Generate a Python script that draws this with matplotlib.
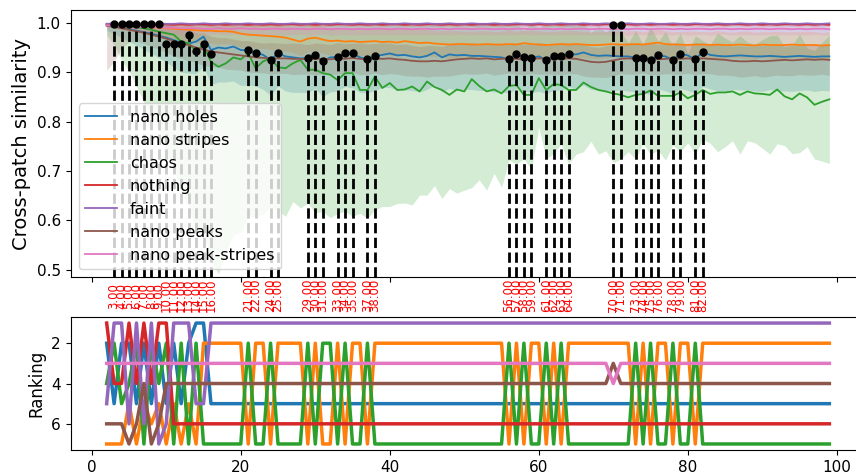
import numpy as np
import matplotlib.pyplot as plt

steps = np.arange(2, 100)

names = ["nano holes", "nano stripes", "chaos", "nothing", "faint", "nano peaks", "nano peak-stripes"]
colors = ["tab:blue", "tab:orange", "tab:green", "tab:red", "tab:purple", "tab:brown", "tab:pink"]

# mean cross-patch similarity per step (x = 2..99)
holes_mean = [0.995, 0.993, 0.990, 0.987, 0.984, 0.981, 0.978, 0.974, 0.970, 0.965,
              0.960, 0.958, 0.962, 0.972, 0.945, 0.950, 0.948, 0.952, 0.945, 0.944,
              0.940, 0.935, 0.925, 0.938, 0.932, 0.930, 0.928, 0.929, 0.935, 0.922,
              0.930, 0.931, 0.938, 0.938, 0.930, 0.926, 0.933, 0.935, 0.938, 0.934,
              0.935, 0.932, 0.930, 0.933, 0.940, 0.930, 0.936, 0.934, 0.935, 0.933,
              0.933, 0.932, 0.931, 0.930, 0.926, 0.937, 0.930, 0.929, 0.932, 0.925,
              0.933, 0.933, 0.937, 0.936, 0.940, 0.935, 0.933, 0.934, 0.933, 0.932,
              0.932, 0.929, 0.929, 0.925, 0.934, 0.932, 0.925, 0.937, 0.934, 0.926,
              0.941, 0.935, 0.933, 0.932, 0.933, 0.934, 0.933, 0.932, 0.932, 0.933,
              0.932, 0.931, 0.932, 0.933, 0.932, 0.931, 0.932, 0.932]
stripes_mean = [0.997, 0.996, 0.995, 0.994, 0.993, 0.992, 0.991, 0.990, 0.989, 0.988,
                0.987, 0.986, 0.985, 0.984, 0.984, 0.983, 0.983, 0.982, 0.978, 0.976,
                0.975, 0.974, 0.973, 0.972, 0.970, 0.966, 0.962, 0.968, 0.970, 0.966,
                0.963, 0.964, 0.962, 0.963, 0.961, 0.962, 0.963, 0.961, 0.962, 0.960,
                0.963, 0.961, 0.959, 0.960, 0.958, 0.957, 0.956, 0.957, 0.957, 0.956,
                0.956, 0.957, 0.956, 0.956, 0.957, 0.956, 0.959, 0.957, 0.956, 0.955,
                0.956, 0.957, 0.956, 0.957, 0.956, 0.955, 0.955, 0.956, 0.957, 0.956,
                0.956, 0.957, 0.956, 0.958, 0.960, 0.957, 0.956, 0.956, 0.955, 0.956,
                0.956, 0.955, 0.956, 0.955, 0.955, 0.956, 0.955, 0.954, 0.956, 0.955,
                0.955, 0.955, 0.956, 0.955, 0.955, 0.955, 0.954, 0.955]
chaos_mean = [0.996, 0.995, 0.994, 0.993, 0.991, 0.989, 0.986, 0.982, 0.979, 0.976,
              0.962, 0.959, 0.942, 0.955, 0.921, 0.911, 0.918, 0.930, 0.926, 0.938,
              0.908, 0.922, 0.928, 0.910, 0.908, 0.918, 0.925, 0.905, 0.905, 0.898,
              0.895, 0.884, 0.898, 0.898, 0.864, 0.864, 0.891, 0.868, 0.878, 0.864,
              0.865, 0.871, 0.861, 0.881, 0.870, 0.864, 0.854, 0.865, 0.861, 0.886,
              0.872, 0.861, 0.865, 0.857, 0.872, 0.874, 0.854, 0.854, 0.888, 0.864,
              0.876, 0.874, 0.864, 0.864, 0.879, 0.870, 0.864, 0.861, 0.857, 0.854,
              0.849, 0.854, 0.856, 0.863, 0.852, 0.852, 0.852, 0.859, 0.847, 0.854,
              0.864, 0.856, 0.859, 0.859, 0.861, 0.854, 0.861, 0.857, 0.856, 0.854,
              0.865, 0.851, 0.845, 0.857, 0.849, 0.834, 0.840, 0.845]
nothing_mean = [0.998, 0.997, 0.997, 0.996, 0.997, 0.997, 0.996, 0.997, 0.997, 0.996,
                0.997, 0.996, 0.997, 0.997, 0.996, 0.997, 0.996, 0.997, 0.997, 0.996,
                0.997, 0.996, 0.997, 0.996, 0.997, 0.997, 0.996, 0.997, 0.996, 0.997,
                0.996, 0.997, 0.997, 0.996, 0.997, 0.996, 0.997, 0.996, 0.997, 0.997,
                0.996, 0.997, 0.996, 0.997, 0.997, 0.996, 0.997, 0.996, 0.997, 0.996,
                0.997, 0.997, 0.996, 0.997, 0.996, 0.997, 0.997, 0.996, 0.997, 0.996,
                0.997, 0.996, 0.997, 0.997, 0.996, 0.997, 0.996, 0.997, 0.997, 0.996,
                0.997, 0.996, 0.997, 0.996, 0.997, 0.997, 0.996, 0.997, 0.996, 0.997,
                0.997, 0.996, 0.997, 0.996, 0.997, 0.997, 0.996, 0.997, 0.996, 0.997,
                0.996, 0.997, 0.997, 0.996, 0.997, 0.996, 0.997, 0.996]
faint_mean = [0.998, 0.999, 0.998, 0.998, 0.999, 0.998, 0.998, 0.999, 0.998, 0.998,
              0.999, 0.998, 0.998, 0.999, 0.998, 0.998, 0.999, 0.998, 0.998, 0.999,
              0.998, 0.998, 0.999, 0.998, 0.998, 0.999, 0.998, 0.998, 0.999, 0.998,
              0.998, 0.999, 0.998, 0.998, 0.999, 0.998, 0.998, 0.999, 0.998, 0.998,
              0.999, 0.998, 0.998, 0.999, 0.998, 0.998, 0.999, 0.998, 0.998, 0.999,
              0.998, 0.998, 0.999, 0.998, 0.998, 0.999, 0.998, 0.998, 0.999, 0.998,
              0.998, 0.999, 0.998, 0.998, 0.999, 0.998, 0.998, 0.999, 0.998, 0.998,
              0.999, 0.998, 0.998, 0.999, 0.998, 0.998, 0.999, 0.998, 0.998, 0.999,
              0.998, 0.998, 0.999, 0.998, 0.998, 0.999, 0.998, 0.998, 0.999, 0.998,
              0.998, 0.999, 0.998, 0.998, 0.999, 0.998, 0.998, 0.999]
peaks_mean = [0.994, 0.992, 0.989, 0.986, 0.983, 0.980, 0.976, 0.972, 0.968, 0.963,
              0.958, 0.955, 0.950, 0.946, 0.942, 0.940, 0.938, 0.936, 0.934, 0.932,
              0.930, 0.929, 0.928, 0.928, 0.928, 0.927, 0.927, 0.926, 0.927, 0.927,
              0.926, 0.928, 0.927, 0.929, 0.927, 0.926, 0.928, 0.927, 0.928, 0.926,
              0.925, 0.923, 0.922, 0.922, 0.923, 0.922, 0.924, 0.926, 0.927, 0.928,
              0.927, 0.928, 0.926, 0.927, 0.928, 0.927, 0.926, 0.927, 0.928, 0.927,
              0.926, 0.927, 0.928, 0.927, 0.924, 0.921, 0.920, 0.921, 0.924, 0.927,
              0.928, 0.927, 0.928, 0.927, 0.926, 0.927, 0.928, 0.927, 0.928, 0.927,
              0.928, 0.927, 0.926, 0.925, 0.923, 0.922, 0.922, 0.923, 0.922, 0.923,
              0.924, 0.925, 0.924, 0.925, 0.926, 0.925, 0.926, 0.925]
peakstripes_mean = [0.995, 0.994, 0.993, 0.993, 0.992, 0.992, 0.991, 0.991, 0.990, 0.990,
                    0.989, 0.989, 0.989, 0.988, 0.988, 0.989, 0.988, 0.988, 0.989, 0.988,
                    0.988, 0.987, 0.988, 0.988, 0.987, 0.988, 0.988, 0.987, 0.988, 0.988,
                    0.987, 0.988, 0.988, 0.987, 0.988, 0.987, 0.988, 0.988, 0.987, 0.988,
                    0.988, 0.987, 0.988, 0.988, 0.987, 0.988, 0.987, 0.988, 0.988, 0.987,
                    0.988, 0.988, 0.987, 0.988, 0.987, 0.988, 0.988, 0.987, 0.988, 0.988,
                    0.987, 0.988, 0.987, 0.988, 0.988, 0.987, 0.988, 0.988, 0.987, 0.988,
                    0.987, 0.988, 0.988, 0.987, 0.988, 0.988, 0.987, 0.988, 0.987, 0.988,
                    0.988, 0.987, 0.988, 0.988, 0.987, 0.988, 0.987, 0.988, 0.988, 0.987,
                    0.988, 0.988, 0.987, 0.988, 0.987, 0.988, 0.988, 0.987]

# standard deviations (band half-width)
holes_std = [0.010, 0.015, 0.020, 0.025, 0.030, 0.035, 0.040, 0.045, 0.050, 0.055,
             0.060, 0.060, 0.065, 0.060, 0.070, 0.070, 0.068, 0.070, 0.072, 0.070,
             0.068, 0.070, 0.072, 0.066, 0.070, 0.071, 0.069, 0.070, 0.068, 0.072,
             0.070, 0.069, 0.067, 0.070, 0.071, 0.068, 0.070, 0.066, 0.069, 0.070,
             0.071, 0.069, 0.070, 0.068, 0.066, 0.070, 0.069, 0.071, 0.070, 0.068,
             0.070, 0.069, 0.071, 0.070, 0.068, 0.070, 0.069, 0.070, 0.071, 0.068,
             0.070, 0.069, 0.067, 0.070, 0.066, 0.070, 0.069, 0.071, 0.070, 0.068,
             0.070, 0.069, 0.071, 0.070, 0.068, 0.070, 0.069, 0.070, 0.071, 0.068,
             0.070, 0.069, 0.071, 0.070, 0.068, 0.070, 0.069, 0.070, 0.071, 0.068,
             0.070, 0.069, 0.071, 0.070, 0.068, 0.070, 0.069, 0.070]
stripes_std = [0.004, 0.006, 0.008, 0.010, 0.012, 0.014, 0.016, 0.018, 0.020, 0.021,
               0.022, 0.023, 0.024, 0.025, 0.025, 0.026, 0.025, 0.026, 0.027, 0.026,
               0.027, 0.026, 0.027, 0.028, 0.027, 0.026, 0.028, 0.027, 0.026, 0.027,
               0.028, 0.027, 0.026, 0.027, 0.028, 0.027, 0.026, 0.027, 0.028, 0.027,
               0.026, 0.027, 0.028, 0.027, 0.026, 0.027, 0.028, 0.027, 0.026, 0.027,
               0.028, 0.027, 0.026, 0.027, 0.028, 0.027, 0.026, 0.027, 0.028, 0.027,
               0.026, 0.027, 0.028, 0.027, 0.026, 0.027, 0.028, 0.027, 0.026, 0.027,
               0.028, 0.027, 0.026, 0.027, 0.028, 0.027, 0.026, 0.027, 0.028, 0.027,
               0.026, 0.027, 0.028, 0.027, 0.026, 0.027, 0.028, 0.027, 0.026, 0.027,
               0.028, 0.027, 0.026, 0.027, 0.028, 0.027, 0.026, 0.027]
chaos_std = [0.020, 0.040, 0.070, 0.090, 0.120, 0.150, 0.170, 0.200, 0.240, 0.270,
             0.300, 0.330, 0.360, 0.380, 0.400, 0.420, 0.380, 0.360, 0.350, 0.330,
             0.300, 0.310, 0.300, 0.290, 0.300, 0.280, 0.300, 0.270, 0.290, 0.280,
             0.290, 0.270, 0.280, 0.290, 0.250, 0.260, 0.270, 0.240, 0.250, 0.230,
             0.230, 0.240, 0.210, 0.230, 0.200, 0.220, 0.190, 0.210, 0.200, 0.220,
             0.190, 0.200, 0.170, 0.190, 0.150, 0.160, 0.130, 0.150, 0.100, 0.140,
             0.140, 0.120, 0.150, 0.130, 0.140, 0.110, 0.130, 0.120, 0.140, 0.130,
             0.110, 0.130, 0.100, 0.130, 0.110, 0.130, 0.100, 0.120, 0.090, 0.120,
             0.100, 0.100, 0.120, 0.110, 0.100, 0.120, 0.100, 0.100, 0.110, 0.120,
             0.110, 0.100, 0.110, 0.120, 0.100, 0.110, 0.120, 0.130]
nothing_std = [0.003, 0.003, 0.004, 0.003, 0.003, 0.004, 0.003, 0.003, 0.004, 0.003,
               0.003, 0.004, 0.003, 0.003, 0.004, 0.003, 0.003, 0.004, 0.003, 0.003,
               0.004, 0.003, 0.003, 0.004, 0.003, 0.003, 0.004, 0.003, 0.003, 0.004,
               0.003, 0.003, 0.004, 0.003, 0.003, 0.004, 0.003, 0.003, 0.004, 0.003,
               0.003, 0.004, 0.003, 0.003, 0.004, 0.003, 0.003, 0.004, 0.003, 0.003,
               0.004, 0.003, 0.003, 0.004, 0.003, 0.003, 0.004, 0.003, 0.003, 0.004,
               0.003, 0.003, 0.004, 0.003, 0.003, 0.004, 0.003, 0.003, 0.004, 0.003,
               0.003, 0.004, 0.003, 0.003, 0.004, 0.003, 0.003, 0.004, 0.003, 0.003,
               0.004, 0.003, 0.003, 0.004, 0.003, 0.003, 0.004, 0.003, 0.003, 0.004,
               0.003, 0.003, 0.004, 0.003, 0.003, 0.004, 0.003, 0.003]
faint_std = [0.002, 0.002, 0.002, 0.002, 0.002, 0.002, 0.002, 0.002, 0.002, 0.002,
             0.002, 0.002, 0.002, 0.002, 0.002, 0.002, 0.002, 0.002, 0.002, 0.002,
             0.002, 0.002, 0.002, 0.002, 0.002, 0.002, 0.002, 0.002, 0.002, 0.002,
             0.002, 0.002, 0.002, 0.002, 0.002, 0.002, 0.002, 0.002, 0.002, 0.002,
             0.002, 0.002, 0.002, 0.002, 0.002, 0.002, 0.002, 0.002, 0.002, 0.002,
             0.002, 0.002, 0.002, 0.002, 0.002, 0.002, 0.002, 0.002, 0.002, 0.002,
             0.002, 0.002, 0.002, 0.002, 0.002, 0.002, 0.002, 0.002, 0.002, 0.002,
             0.002, 0.002, 0.002, 0.002, 0.002, 0.002, 0.002, 0.002, 0.002, 0.002,
             0.002, 0.002, 0.002, 0.002, 0.002, 0.002, 0.002, 0.002, 0.002, 0.002,
             0.002, 0.002, 0.002, 0.002, 0.002, 0.002, 0.002, 0.002]
peaks_std = [0.090, 0.070, 0.040, 0.025, 0.020, 0.022, 0.024, 0.026, 0.028, 0.030,
             0.030, 0.032, 0.030, 0.033, 0.031, 0.030, 0.032, 0.031, 0.030, 0.032,
             0.031, 0.030, 0.032, 0.031, 0.030, 0.032, 0.031, 0.030, 0.032, 0.031,
             0.030, 0.032, 0.031, 0.030, 0.032, 0.031, 0.030, 0.032, 0.031, 0.030,
             0.032, 0.031, 0.030, 0.032, 0.031, 0.030, 0.032, 0.031, 0.030, 0.032,
             0.031, 0.030, 0.032, 0.031, 0.030, 0.032, 0.031, 0.030, 0.032, 0.031,
             0.030, 0.032, 0.031, 0.030, 0.032, 0.031, 0.030, 0.032, 0.031, 0.030,
             0.032, 0.031, 0.030, 0.032, 0.031, 0.030, 0.032, 0.031, 0.030, 0.032,
             0.031, 0.030, 0.032, 0.031, 0.030, 0.032, 0.031, 0.030, 0.032, 0.031,
             0.030, 0.032, 0.031, 0.030, 0.032, 0.031, 0.030, 0.032]
peakstripes_std = [0.005, 0.006, 0.007, 0.008, 0.009, 0.010, 0.010, 0.011, 0.011, 0.012,
                   0.012, 0.011, 0.012, 0.012, 0.011, 0.012, 0.012, 0.011, 0.012, 0.012,
                   0.011, 0.012, 0.012, 0.011, 0.012, 0.012, 0.011, 0.012, 0.012, 0.011,
                   0.012, 0.012, 0.011, 0.012, 0.012, 0.011, 0.012, 0.012, 0.011, 0.012,
                   0.012, 0.011, 0.012, 0.012, 0.011, 0.012, 0.012, 0.011, 0.012, 0.012,
                   0.011, 0.012, 0.012, 0.011, 0.012, 0.012, 0.011, 0.012, 0.012, 0.011,
                   0.012, 0.012, 0.011, 0.012, 0.012, 0.011, 0.012, 0.012, 0.011, 0.012,
                   0.012, 0.011, 0.012, 0.012, 0.011, 0.012, 0.012, 0.011, 0.012, 0.012,
                   0.011, 0.012, 0.012, 0.011, 0.012, 0.012, 0.011, 0.012, 0.012, 0.011,
                   0.012, 0.012, 0.011, 0.012, 0.012, 0.011, 0.012, 0.012]

# ranking per step, one digit per step (x = 2..99)
rank_holes = ("252252525252115" "5555"
              "5555555555" "5555555555" "5555555555" "5555555555"
              "5555555555" "5555555555" "5555555555" "555555555")
rank_stripes = ("777575657575722" "2222"
                "7227222272" "7727227222" "2222222222" "2222272722"
                "7272222222" "2272722722" "7222222222" "222222222")
rank_chaos = ("425427242727277" "7777"
              "2772777727" "2272772777" "7777777777" "7777727277"
              "2727777777" "7727277277" "2777777777" "777777777")
rank_nothing = ("144141411666666" "6666"
                "6666666666" "6666666666" "6666666666" "6666666666"
                "6666666666" "6666666666" "6666666666" "666666666")
rank_faint = ("511616176111551" "1111"
              "1111111111" "1111111111" "1111111111" "1111111111"
              "1111111111" "1111111111" "1111111111" "111111111")
rank_peaks = ("666764764444444" "4444"
              "4444444444" "4444444444" "4444444444" "4444444444"
              "4444444443" "4444444444" "4444444444" "444444444")
rank_peakstripes = ("333333333333333" "3333"
                    "3333333333" "3333333333" "3333333333" "3333333333"
                    "3333333334" "3333333333" "3333333333" "333333333")

# steps where the ranking changes, and the similarity marked there
change_steps = [3, 4, 5, 6, 7, 8, 9, 10, 11, 12, 13, 14, 15, 16,
                21, 22, 24, 25, 29, 30, 31, 33, 34, 35, 37, 38,
                56, 57, 58, 59, 61, 62, 63, 64, 70, 71,
                73, 74, 75, 76, 78, 79, 81, 82]
change_sim = [0.998, 0.998, 0.998, 0.998, 0.998, 0.998, 0.998, 0.958, 0.958, 0.958,
              0.975, 0.942, 0.958, 0.937,
              0.945, 0.938, 0.925, 0.938, 0.929, 0.935, 0.922, 0.931, 0.938, 0.938,
              0.926, 0.933,
              0.926, 0.937, 0.930, 0.929, 0.925, 0.933, 0.933, 0.937, 0.996, 0.996,
              0.929, 0.929, 0.925, 0.934, 0.925, 0.937, 0.926, 0.941]

means = [holes_mean, stripes_mean, chaos_mean, nothing_mean, faint_mean, peaks_mean, peakstripes_mean]
stds = [holes_std, stripes_std, chaos_std, nothing_std, faint_std, peaks_std, peakstripes_std]
ranks = [rank_holes, rank_stripes, rank_chaos, rank_nothing, rank_faint, rank_peaks, rank_peakstripes]

fig = plt.figure(figsize=(8.56, 4.76), dpi=100)
ax1 = fig.add_axes([0.0824, 0.418, 0.9287, 0.561])
ax2 = fig.add_axes([0.0824, 0.0546, 0.9287, 0.2794], sharex=ax1)

for name, c, m, s in zip(names, colors, means, stds):
    m = np.array(m)
    s = np.array(s)
    ax1.plot(steps, m, color=c, lw=1.3, label=name)
    ax1.fill_between(steps, m - s, np.minimum(m + s, 1.0), color=c, alpha=0.2, lw=0)

ylo, yhi = 0.485, 1.026
ax1.set_ylim(ylo, yhi)
ax1.vlines(change_steps, ylo, change_sim, colors="k", linestyles="--", lw=2, zorder=5)
ax1.plot(change_steps, change_sim, "o", color="k", ms=5, zorder=6)
for s in change_steps:
    ax1.text(s, -0.07, f"{s:.2f}", transform=ax1.get_xaxis_transform(),
             rotation=90, ha="center", va="center", color="red", fontsize=8.5)

ax1.set_ylabel("Cross-patch similarity", fontsize=14)
ax1.tick_params(labelbottom=False, labelsize=11)
ax1.legend(loc="lower left", fontsize=11.5)

for name, c, r in zip(names, colors, ranks):
    ax2.plot(steps, [int(ch) for ch in r], color=c, lw=2.5)
ax2.invert_yaxis()
ax2.set_ylabel("Ranking", fontsize=12)
ax2.tick_params(labelsize=11)

fig.savefig("out.png", dpi=100)
